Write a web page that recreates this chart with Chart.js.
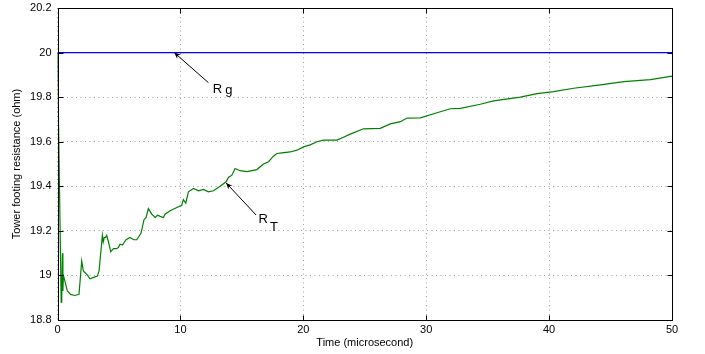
<!DOCTYPE html>
<html>
<head>
<meta charset="utf-8">
<script src="https://cdn.jsdelivr.net/npm/chart.js@4.4.1/dist/chart.umd.min.js"></script>
<style>
  html, body { margin: 0; padding: 0; background: #fff; }
  #wrap { width: 705px; height: 354px; }
</style>
</head>
<body>
<div id="wrap"><canvas id="resChart" width="705" height="354"></canvas></div>
<script>
// time axis (microsecond) and resistance values
const timeRT = [0, 0.3, 0.33, 0.36, 0.4, 0.44, 0.48, 0.53, 0.67, 0.8, 1.07, 1.4, 1.75, 1.97, 2.1, 2.29, 2.45, 2.65, 2.9, 3.24,
  3.38, 3.55, 3.65, 3.72, 3.8, 3.9, 4.0, 4.15, 4.33, 4.55, 4.8, 4.95, 5.09, 5.29, 5.45, 5.58, 5.9, 6.2, 6.45, 6.8,
  7.04, 7.21, 7.39, 7.67, 7.94, 8.15, 8.35, 8.62, 8.75, 9.16, 9.71, 10.11, 10.24, 10.44, 10.65, 11.06, 11.47, 11.87, 12.28, 12.69,
  13.23, 13.72, 13.91, 14.19, 14.45, 14.86, 15.41, 16.22, 16.76, 17.17, 17.57, 17.85, 18.26, 18.93, 19.48, 20.02, 20.56, 21.11, 21.65, 22.74,
  23.27, 23.82, 24.9, 26.26, 27.08, 27.9, 28.44, 29.52, 30.88, 31.96, 32.78, 34.4, 35.49, 37.66, 39.02, 40.37, 42.0, 44.18, 46.07, 48.25, 50];
const valueRT = [20.0, 18.88, 19.0, 18.9, 19.10, 18.93, 19.0, 18.99, 18.96, 18.93, 18.915, 18.91, 18.915, 19.065, 19.02, 19.01, 19.0, 18.985, 18.99, 18.997,
  19.02, 19.12, 19.18, 19.15, 19.17, 19.17, 19.18, 19.15, 19.106, 19.12, 19.12, 19.125, 19.14, 19.136, 19.15, 19.16, 19.17, 19.16, 19.16, 19.19,
  19.25, 19.26, 19.30, 19.275, 19.26, 19.27, 19.265, 19.26, 19.275, 19.29, 19.305, 19.315, 19.34, 19.325, 19.375, 19.39, 19.38, 19.386, 19.375, 19.38,
  19.40, 19.42, 19.44, 19.45, 19.48, 19.47, 19.466, 19.475, 19.50, 19.51, 19.535, 19.547, 19.55, 19.554, 19.562, 19.577, 19.586, 19.60, 19.607, 19.607,
  19.62, 19.634, 19.658, 19.66, 19.68, 19.69, 19.706, 19.707, 19.73, 19.748, 19.75, 19.768, 19.783, 19.80, 19.816, 19.825, 19.84, 19.855, 19.87, 19.879, 19.894];
const timeRg = [0, 50];
const valueRg = [20, 20];
const xTicks = [0, 10, 20, 30, 40, 50];
const yTicks = [18.8, 19, 19.2, 19.4, 19.6, 19.8, 20, 20.2];

const FONT = "'Liberation Sans', Arial, Helvetica, sans-serif";

// arrows + labels, in data coordinates
const notes = [
  { tip: [9.5, 20.0], tail: [12.28, 19.865], main: 'R', mainAt: [12.64, 19.817], sub: 'g', subAt: [13.64, 19.812] },
  { tip: [13.72, 19.415], tail: [16.16, 19.271], main: 'R', mainAt: [16.35, 19.237], sub: 'T', subAt: [17.3, 19.2] }
];

const frameAndNotes = {
  id: 'frameAndNotes',
  afterDatasetsDraw(chart) {
    const c = chart.ctx, a = chart.chartArea;
    const xs = chart.scales.x, ys = chart.scales.y;
    c.save();
    // box
    c.strokeStyle = '#000';
    c.lineWidth = 1;
    const L = Math.round(a.left) + 0.5, R = Math.round(a.right) + 0.5;
    const T = Math.round(a.top) + 0.5, B = Math.round(a.bottom) + 0.5;
    c.strokeRect(L, T, R - L, B - T);
    // inward ticks on all four sides
    const tl = 5;
    c.beginPath();
    xTicks.forEach(v => {
      const px = Math.round(xs.getPixelForValue(v)) + 0.5;
      c.moveTo(px, B); c.lineTo(px, B - tl);
      c.moveTo(px, T); c.lineTo(px, T + tl);
    });
    yTicks.forEach(v => {
      const py = Math.round(ys.getPixelForValue(v)) + 0.5;
      c.moveTo(L, py); c.lineTo(L + tl, py);
      c.moveTo(R, py); c.lineTo(R - tl, py);
    });
    c.stroke();

    // annotations
    notes.forEach(n => {
      const x0 = xs.getPixelForValue(n.tail[0]), y0 = ys.getPixelForValue(n.tail[1]);
      const x1 = xs.getPixelForValue(n.tip[0]), y1 = ys.getPixelForValue(n.tip[1]);
      const ang = Math.atan2(y1 - y0, x1 - x0);
      c.strokeStyle = '#000';
      c.lineWidth = 1;
      c.beginPath();
      c.moveTo(x0, y0); c.lineTo(x1, y1);
      c.stroke();
      const hl = 7, hw = 0.42;
      c.fillStyle = '#000';
      c.beginPath();
      c.moveTo(x1, y1);
      c.lineTo(x1 - hl * Math.cos(ang - hw), y1 - hl * Math.sin(ang - hw));
      c.lineTo(x1 - hl * 0.6 * Math.cos(ang), y1 - hl * 0.6 * Math.sin(ang));
      c.lineTo(x1 - hl * Math.cos(ang + hw), y1 - hl * Math.sin(ang + hw));
      c.closePath();
      c.fill();
      c.font = '13px ' + FONT;
      c.textBaseline = 'alphabetic';
      c.textAlign = 'left';
      c.fillText(n.main, xs.getPixelForValue(n.mainAt[0]), ys.getPixelForValue(n.mainAt[1]));
      c.fillText(n.sub, xs.getPixelForValue(n.subAt[0]), ys.getPixelForValue(n.subAt[1]));
    });
    c.restore();
  }
};

const ctx = document.getElementById('resChart').getContext('2d');
const chart = new Chart(ctx, {
  type: 'line',
  data: {
    datasets: [{
      label: 'Rg',
      data: timeRg.map((t, i) => ({ x: t, y: valueRg[i] })),
      borderColor: '#0000ff',
      borderWidth: 1.2,
      pointRadius: 0,
      tension: 0
    }, {
      label: 'RT',
      data: timeRT.map((t, i) => ({ x: t, y: valueRT[i] })),
      borderColor: '#008000',
      borderWidth: 1.2,
      pointRadius: 0,
      tension: 0
    }]
  },
  options: {
    responsive: false,
    animation: false,
    layout: { padding: { left: 0, right: 33, top: 8, bottom: 0 } },
    plugins: { legend: { display: false }, tooltip: { enabled: false } },
    scales: {
      x: {
        type: 'linear',
        min: 0, max: 50,
        afterBuildTicks: s => { s.ticks = xTicks.map(v => ({ value: v })); },
        afterFit: s => { s.height = 34; s.paddingLeft = 0; s.paddingRight = 0; },
        ticks: { color: '#000', font: { family: FONT, size: 11 }, padding: 3, maxRotation: 0, callback: v => String(v) },
        grid: { color: '#a0a0a0', lineWidth: 1, drawTicks: false },
        border: { display: false, dash: [1, 3.5] },
        title: { display: true, text: 'Time (microsecond)', color: '#000', font: { family: FONT, size: 11 }, padding: { top: 0, bottom: 4 } }
      },
      y: {
        type: 'linear',
        min: 18.8, max: 20.2,
        afterBuildTicks: s => { s.ticks = yTicks.map(v => ({ value: v })); },
        afterFit: s => { s.width = 57.5; s.paddingTop = 0; s.paddingBottom = 0; },
        ticks: { color: '#000', font: { family: FONT, size: 11 }, padding: 6, callback: v => String(Math.round(v * 10) / 10) },
        grid: { color: '#a0a0a0', lineWidth: 1, drawTicks: false },
        border: { display: false, dash: [1, 3.5] },
        title: { display: true, text: 'Tower footing resistance (ohm)', color: '#000', font: { family: FONT, size: 11 }, padding: { top: 10, bottom: 0 } }
      }
    }
  },
  plugins: [frameAndNotes]
});
</script>
</body>
</html>
